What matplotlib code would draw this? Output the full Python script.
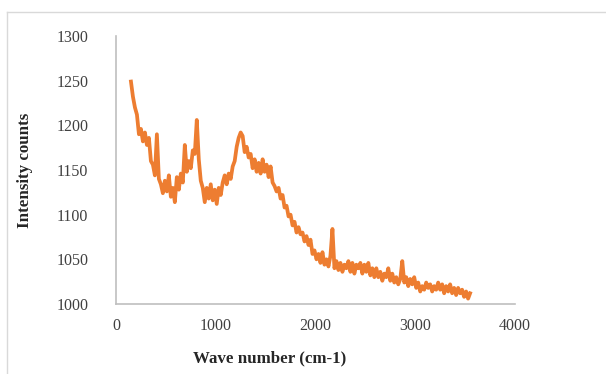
import numpy as np
import matplotlib.pyplot as plt
from matplotlib.lines import Line2D

wavenumber = np.arange(150, 3551, 20)
intensity = [
    1249, 1232, 1220, 1212, 1190, 1196, 1182, 1192, 1178, 1186, 1160, 1156, 1144,
    1190, 1140, 1134, 1124, 1138, 1126, 1144, 1120, 1130, 1114,
    1142, 1128, 1146, 1136, 1178, 1148, 1160, 1152, 1172, 1168,
    1206, 1162, 1138, 1130, 1114, 1130, 1118, 1134, 1116, 1128,
    1112, 1130, 1122, 1136, 1144, 1134, 1146, 1140, 1154, 1160,
    1176, 1186, 1192, 1188, 1170, 1176, 1164, 1168, 1152, 1162,
    1148, 1158, 1146, 1162, 1148, 1156, 1142, 1154, 1136, 1132,
    1126, 1130, 1118, 1122, 1108, 1110, 1098, 1100, 1088, 1092,
    1080, 1086, 1078, 1080, 1070, 1076, 1066, 1072, 1056, 1060,
    1050, 1056, 1046, 1058, 1044, 1050, 1042, 1054, 1084, 1040,
    1048, 1038, 1046, 1036, 1044, 1040, 1048, 1036, 1046, 1034,
    1044, 1040, 1046, 1034, 1044, 1036, 1046, 1032, 1040, 1030,
    1040, 1030, 1036, 1026, 1034, 1030, 1040, 1026, 1034, 1024,
    1030, 1022, 1028, 1048, 1024, 1030, 1020, 1028, 1022, 1030,
    1018, 1024, 1014, 1020, 1016, 1024, 1018, 1022, 1014, 1020,
    1016, 1024, 1016, 1022, 1012, 1020, 1014, 1022, 1012, 1018,
    1010, 1018, 1012, 1016, 1008, 1014, 1006, 1012,
]
x_ticks = [0, 1000, 2000, 3000, 4000]
y_ticks = [1000, 1050, 1100, 1150, 1200, 1250, 1300]

plt.rcParams['font.family'] = ['Liberation Serif', 'DejaVu Serif']

fig = plt.figure(figsize=(6.06, 3.74), dpi=100)
ax = fig.add_axes([0.1914, 0.1872, 0.6584, 0.7165])

ax.plot(wavenumber, intensity, color='#ED7D31', linewidth=2.7, solid_joinstyle='round')

ax.set_xlim(0, 4000)
ax.set_ylim(1000, 1300)
ax.set_xticks(x_ticks)
ax.set_yticks(y_ticks)
ax.tick_params(length=0, labelsize=11.5, colors='#404040')
ax.tick_params(axis='y', pad=20)
ax.tick_params(axis='x', pad=10)

for s in ['top', 'right']:
    ax.spines[s].set_visible(False)
for s in ['left', 'bottom']:
    ax.spines[s].set_color('#BFBFBF')
    ax.spines[s].set_linewidth(1.2)

ax.set_xlabel('Wave number (cm-1)', fontsize=12.2, fontweight='bold', color='#262626')
ax.xaxis.set_label_coords(0.386, -0.172)
ax.set_ylabel('Intensity counts', fontsize=12.2, fontweight='bold', color='#262626', labelpad=17)

# light frame around the chart area (top and left edges only visible)
fig.add_artist(Line2D([7 / 606, 1.0], [1 - 11.5 / 374] * 2, color='#D9D9D9', linewidth=1, transform=fig.transFigure))
fig.add_artist(Line2D([7 / 606] * 2, [0, 1 - 11.5 / 374], color='#D9D9D9', linewidth=1, transform=fig.transFigure))

fig.savefig('out.png', dpi=100)
